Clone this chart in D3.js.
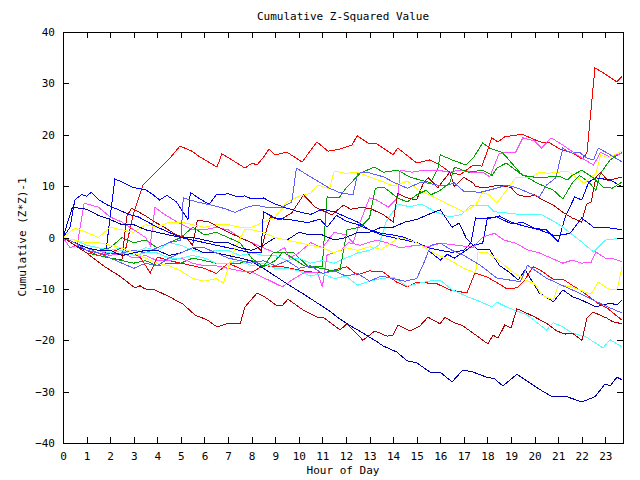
<!DOCTYPE html>
<html><head><meta charset="utf-8">
<script src="https://cdn.jsdelivr.net/npm/d3@7"></script>
<style>
body{margin:0;background:#fff}
text{font-family:"DejaVu Sans Mono","Liberation Mono",monospace;font-size:11px;fill:#000}
</style>
</head><body>
<svg id="c" width="640" height="480"></svg>
<script>
const title = "Cumulative Z-Squared Value";
const xTitle = "Hour of Day";
const yTitle = "Cumulative (Z*Z)-1";
const xTicks = d3.range(0, 24);
const yTicks = [-40, -30, -20, -10, 0, 10, 20, 30, 40];

const redTop = [[0,0],[0.5,-1],[1,-2],[1.5,-2.5],[2,-3],[2.6,-3.5],[2.97,4.4],[3.39,10.2],[3.9,12.6],[4.54,15.5],[4.96,17.8],[5.47,16.8],[5.73,15.9],[6.53,13.7],[6.74,16.3],[7.17,15.1],[7.72,13.5],[8.02,14.5],[8.23,14.1],[8.48,15.5],[8.74,17.2],[8.99,16.1],[9.5,16.6],[10.14,14.7],[10.77,18.6],[11.24,16.8],[11.75,17.2],[12.26,18.0],[12.47,19.8],[12.93,18.4],[13.32,18.2],[14.0,16.1],[14.2,17.4],[15.0,14.5],[15.56,15.1],[15.99,14.1],[16.41,12.7],[16.84,12.2],[17.39,14.1],[17.77,13.9],[18.19,19.4],[18.45,18.6],[18.74,19.6],[19.47,20.1],[20.23,18.6],[20.65,18.4],[21.08,17.2],[21.63,16.4],[22.01,15.3],[22.22,16.4],[22.56,33.0],[23.0,31.8],[23.49,30.3],[23.71,31.4]];
const redLow = [[0,0],[0.5,-1],[1,-2.5],[1.5,-3.5],[2,-3],[2.5,-2],[3,-3],[3.3,-4],[3.7,-6.9],[4,-3.8],[4.5,-4.5],[5,-5],[5.5,-5.5],[6,-6],[6.5,-7],[7,-5],[7.5,-6],[7.93,-7],[8.48,-5.5],[9.33,-5.7],[10.2,-6.5],[11.03,-7],[11.5,-6.3],[12.04,-5.7],[12.47,-7.3],[13,-6.5],[13.57,-6.7],[14.16,-8.7],[14.59,-9.6],[15.01,-8.7],[15.86,-9],[16.41,-10.2],[17.13,-10.8],[17.47,-6.9],[17.98,-7.7],[18.45,-8.9],[18.83,-10],[19.25,-9.8],[19.59,-8.3],[19.93,-5.7],[20.23,-6.3],[20.78,-8.1],[21.2,-8.1],[21.63,-9.4],[22.05,-10.6],[22.65,-12.7],[23.07,-13.7],[23.71,-16.1]];
const dkRedBot = [[0,0],[0.5,-1.5],[1,-3],[1.78,-5.7],[2.4,-7.5],[3.05,-9.8],[3.27,-9.4],[3.48,-10.0],[3.9,-10.2],[4.54,-11.6],[5.1,-13],[5.6,-15.1],[6.1,-16],[6.53,-17.4],[6.95,-16.8],[7.51,-16.8],[7.72,-13.5],[8.23,-10.8],[8.57,-11.6],[9.08,-13.3],[9.29,-13.3],[9.54,-12.0],[10.18,-14.1],[10.77,-15.5],[11.03,-15.5],[11.75,-18.0],[12.04,-16.8],[12.72,-20.0],[13.23,-18.2],[13.74,-19.2],[14.0,-19.0],[14.21,-17.0],[14.72,-18.2],[15.14,-17.2],[15.48,-15.5],[15.99,-16.8],[16.2,-15.5],[16.5,-16.4],[16.96,-17.2],[17.39,-18.6],[18.02,-20.7],[18.24,-19.0],[18.45,-19.6],[18.74,-17.0],[19.0,-17.6],[19.25,-13.9],[19.47,-14.3],[20.02,-15.5],[20.53,-16.8],[20.95,-18.2],[21.29,-18.8],[21.59,-18.6],[22.01,-20.0],[22.22,-15.7],[22.48,-14.5],[23.07,-15.7],[23.32,-16.4],[23.71,-16.8]];
const dkRedHigh = [[0,0],[0.5,-1],[1,-2.5],[1.5,-3.5],[2,-4],[2.5,-4.4],[2.7,4],[2.9,5.7],[3.2,5],[3.5,4.2],[3.9,3],[4.3,2],[4.8,0.5],[5.2,0],[5.5,-1.5],[5.7,3.4],[6.2,3],[6.8,1.5],[7.5,0],[8,-1],[8.4,-2.5],[8.6,1],[8.8,4],[9.2,3.4],[9.7,4.8],[10.2,8.3],[10.7,5.9],[11.4,4.4],[11.9,6.3],[12.2,5.5],[12.7,5.9],[13.1,5.5],[13.6,4.4],[14,3],[14.2,8.6],[14.6,7.7],[15,7.3],[15.3,10.8],[15.5,11.6],[15.9,9.7],[16.4,12.7],[16.6,9.9],[17,11.7],[17.4,10.6],[17.5,9.9],[17.9,9.7],[18.5,10.2],[19,9.7],[19.3,8.3],[19.7,7.9],[20,8.3],[20.2,7.7],[20.8,6.3],[21.2,4.9],[21.6,3.8],[22,3],[22.2,6.5],[22.4,6.9],[22.6,11.7],[22.8,12.7],[23.1,11.1],[23.5,11.5],[23.71,11.8]];
const greenA = [[0,0],[0.5,-1],[1,-2],[1.5,-2.5],[2,-2],[2.5,0],[3,-1],[3.5,-0.5],[4,-2],[4.5,-1],[5,0],[5.5,2],[6,0.5],[6.5,1],[7,0],[7.5,-1],[8,-4],[8.5,-5.7],[9,-4.5],[9.3,-3],[9.8,-3],[10.4,-5.7],[11,-5.7],[11.1,1.5],[11.2,7.9],[11.7,7.7],[12,9.6],[12.6,12.5],[13.2,13.7],[13.6,12.7],[14.2,13.1],[14.7,11.8],[15.2,11.1],[15.6,10.7],[15.9,13.5],[16,16.1],[16.5,15.1],[17.1,14.1],[17.4,15.5],[17.8,18.4],[18.1,17.4],[18.6,16.6],[18.8,15.7],[19.4,12.5],[20.1,10.6],[20.8,9.2],[21.2,7.5],[21.6,10.6],[21.9,12.1],[22.3,10.8],[22.6,9.2],[22.8,12.5],[23.2,15.1],[23.71,16.6]];
const greenB = [[0,0],[0.5,-1.5],[1,-3],[1.5,-3.5],[2,-4],[2.5,-4.5],[3,-5],[3.5,-4.5],[4,-5.5],[4.5,-5],[5,-5],[5.5,-4],[6,-4.5],[6.5,-5],[7,-5],[7.5,-5],[8,-4.4],[8.5,-5.7],[8.9,-3],[9.4,-3],[9.9,-4.5],[10.3,-5.7],[11,-6],[11.4,-6.5],[11.75,-6.3],[12.05,1.5],[12.6,2],[13,3.8],[13.25,9.6],[13.6,9.8],[14.2,7.7],[14.6,6.9],[15,8.3],[15.4,9.2],[15.6,8.3],[16,9.2],[16.4,10.6],[16.6,13.7],[17.2,12.7],[17.8,13.1],[18.2,12.1],[18.4,13.5],[18.8,14.5],[19.5,12.1],[20.2,11.6],[20.6,11.8],[21.1,11.8],[21.4,11.2],[21.6,12.1],[22,13.1],[22.5,11.6],[22.9,9.8],[23.3,9.6],[23.71,10.8]];
const blueA = [[0,0],[0.5,-1.5],[1,-2.5],[1.5,-3],[1.8,-3.5],[2.0,4],[2.2,11.4],[2.5,10.8],[3,9.7],[3.5,9.3],[3.8,8.4],[4.1,7.3],[4.4,8.2],[4.8,7],[5.3,3.5],[5.4,8.8],[5.8,7.5],[6.2,6.5],[6.5,8.3],[7,8.5],[7.4,7.9],[7.7,8.1],[8,7.5],[8.5,7.7],[9,6.5],[9.5,5.7],[10,5],[10.5,4.5],[11,5.5],[11.5,5],[12,4],[12.5,3],[13,1.5],[13.5,0.5],[14,0],[14.5,-0.5],[15,-1],[15.5,-2.5],[16,-4.4],[16.3,-3.3],[16.6,-4],[17,-2.8],[17.4,-1.5],[17.8,-1.1],[18,3.8],[18.4,4],[19,2.7],[19.5,2.9],[20,1.8],[20.5,1.5],[21,-0.8],[21.3,4],[21.7,7.9],[22,7.3],[22.3,10.8],[22.6,11.6],[23.2,11.2],[23.71,9.9]];
const blueB = [[0,0],[0.3,2],[0.5,7.3],[0.8,8.4],[1,8],[1.2,8.8],[1.5,7.4],[1.9,6.3],[2.3,5.5],[2.8,4.5],[3.2,4],[3.6,3],[4,2],[4.5,1],[5,0],[5.5,-0.5],[6,-1],[6.5,-1.5],[7,-2],[7.5,-2.5],[8,-3],[8.4,-3],[8.5,5],[9,3.8],[9.7,3.4],[10.4,2.9],[10.9,3.6],[11.2,2],[11.6,4.3],[12,3.2],[12.5,2.5],[13,1.5],[13.5,0.8],[14,0.5],[14.5,0],[15,-1],[15.5,-2],[16,-2.5],[16.5,-2.9],[17,-2.5],[17.3,-1],[17.5,3.8],[18,3.6],[18.5,4.2],[19,3],[19.5,2.3],[20.2,1.5],[20.9,0.3],[21.5,0.8],[22,3.8],[22.5,2],[23,2],[23.71,1.5]];
const navyBot = [[0,0],[0.5,-1],[1,-2],[1.5,-2.5],[2,-2.5],[2.5,-3.5],[3,-3],[3.5,-2.5],[4,-2.5],[4.5,-3.5],[5,-3],[5.5,-2],[6,-3],[6.5,-3],[7,-3.5],[7.5,-4],[7.93,-4.5],[8.5,-6],[9,-7.5],[9.63,-9.4],[10.2,-11],[10.77,-12.7],[11.3,-14.3],[11.75,-15.9],[12.2,-17.2],[12.72,-18.6],[13.32,-20.3],[13.57,-21.1],[14.16,-22.3],[14.59,-24.0],[15.01,-24.4],[15.56,-26.2],[15.99,-26.2],[16.5,-28.1],[16.96,-25.8],[17.39,-26.2],[17.98,-27.2],[18.3,-27.5],[18.66,-28.9],[19.25,-26.6],[19.93,-28.7],[20.3,-29.8],[20.74,-31.0],[21.37,-31.0],[22.01,-32.0],[22.56,-31.0],[22.99,-28.5],[23.2,-28.9],[23.49,-27.2],[23.71,-27.7]];
const navyMid = [[0,0],[0.2,3],[0.4,5.9],[1,5.5],[1.5,4.3],[2,3.5],[2.5,2.5],[3,2.5],[3.5,1.5],[4,1],[4.5,0.5],[5,0],[5.5,0],[6,-0.5],[6.5,-1],[7,-1],[7.5,-2],[8,-2.5],[8.5,-1.5],[9,0],[9.5,-0.5],[10,1],[10.5,0.5],[11,0.5],[11.5,-0.5],[12,0],[12.5,1],[13,1],[13.5,2],[14,2],[14.5,3],[15,3.5],[15.5,4.5],[16,5.4],[16.5,2],[16.8,2.8],[17.1,-0.1],[17.6,-2.4],[18.1,-2.4],[18.5,-5.4],[19,-7],[19.3,-8.3],[19.6,-6.3],[20.2,-10.8],[20.8,-12.5],[21.2,-10.2],[21.6,-11.5],[22,-12.2],[22.6,-13.5],[23.2,-12.8],[23.5,-13.1],[23.71,-12.2]];
const medBlueLow = [[0,0],[0.5,-1],[1,-2.5],[1.5,-3],[2,-4],[2.5,-5],[3,-6],[3.5,-5],[4,-5.5],[4.5,-4],[5,-3],[5.5,-2],[6,-2],[6.5,-3],[7,-4],[7.5,-4.5],[8,-5],[8.5,-4.5],[9,-5.5],[9.5,-4.5],[10,-6],[10.5,-5.5],[11,-7],[11.5,-6.5],[12,-7.5],[12.5,-7],[13,-8.5],[13.5,-7.5],[14,-8],[14.5,-8.5],[15,-8],[15.3,-5],[15.6,-1.5],[16,-1.1],[16.5,-2.5],[17,-3.5],[17.7,-5.4],[18.4,-7.9],[19.4,-8.6],[19.7,-5.4],[20.5,-7.9],[21.3,-9.6],[21.9,-10.8],[22.5,-12.2],[23.1,-13.5],[23.71,-14.7]];
const medBlueHigh = [[0,0],[0.5,-1],[1,-2],[1.5,-3],[2,-3.5],[2.5,-3],[3,-2.5],[3.5,-3],[4,-2],[4.5,-1],[5,-0.5],[5.1,7.7],[5.7,6.9],[6.3,6.3],[6.8,5.7],[7.3,4.9],[7.8,5.9],[8.2,6.3],[8.6,5.9],[9.3,5.9],[9.7,6.9],[9.9,13.5],[10.5,11.8],[11.3,9.6],[11.7,8.8],[12.3,8.3],[12.5,12.5],[12.9,12.7],[13.6,11.8],[14,10.8],[14.6,9.6],[15.2,10.8],[15.9,10.2],[16.3,10.2],[16.6,10.6],[17,9],[17.7,8.8],[18.4,9.6],[18.8,10.2],[19.3,9.6],[19.8,8.6],[20.2,7.9],[20.5,10.2],[20.9,11.6],[21.2,17.4],[21.4,16.8],[21.6,16.4],[21.9,16.6],[22.2,15.5],[22.5,15.1],[22.7,17.4],[23.1,16.4],[23.71,14.7]];
const magentaHigh = [[0,0],[0.3,-2],[0.6,-1.5],[0.9,6.7],[1.5,5.9],[2,4],[2.5,3],[3,1.5],[3.5,0],[3.7,-1.5],[3.9,5.9],[4.3,4.5],[5,2.6],[5.5,1.5],[6,1.5],[6.5,2],[7,1.5],[7.5,0],[8,-1],[8.5,-2],[9,-3],[9.4,-2],[9.6,-4],[10,-3],[10.5,-1],[11,-2],[11.5,1],[12,0.5],[12.3,-1],[12.6,3],[13,7.7],[13.3,7.3],[13.8,5.9],[14.2,7.7],[14.3,13.1],[14.8,12.7],[15.3,13.1],[15.9,13.1],[16.4,12.7],[16.8,13.1],[17.3,12.7],[17.8,12.7],[18.1,11.8],[18.3,14.1],[18.5,16.4],[19.2,16.6],[19.5,19.4],[20,18.8],[20.3,17.4],[20.7,19.4],[21.2,18],[21.7,16.4],[22,15.5],[22.5,14.1],[22.8,16.6],[23.2,15.7],[23.71,16.4]];
const magentaLow = [[0,0],[0.5,-1],[1,-2],[1.5,-2.5],[2,-3.5],[2.5,-3],[3,-4],[3.5,-3.5],[4,-4.5],[4.5,-4.5],[5,-4],[5.5,-5],[6,-5.5],[6.5,-5.5],[7,-6],[7.5,-6.5],[8,-6.7],[8.5,-7.8],[9.3,-9.6],[9.7,-8.3],[10.2,-6.9],[10.8,-6.9],[11,-9.6],[11.2,-3.4],[11.8,-2.5],[12.1,-1],[12.6,-1.5],[13.3,-0.5],[13.8,-1.1],[14.3,-2],[15,-1.5],[15.5,-1.8],[16,-1.1],[16.7,-1.5],[17.4,-1.9],[17.8,0.1],[18.3,0.8],[18.7,-0.5],[19.2,-1.1],[19.7,-2.4],[20.2,-3],[20.7,-4],[21.2,-5],[21.6,-4.4],[22,-5],[22.4,-4.8],[22.6,-2.8],[23,-4],[23.4,-4.2],[23.71,-4.7]];
const yellowLow = [[0,0],[0.5,-0.5],[1,-1],[1.5,-1],[2,-1.5],[2.5,-2],[3,-3],[3.5,-4],[4,-5],[4.5,-5.5],[5,-6.5],[5.5,-8],[6,-8.5],[6.5,-8],[6.8,-8.9],[7,-6],[7.3,-2],[7.7,1.5],[8,1.5],[8.5,1],[9,0],[9.5,-0.5],[10,-1],[10.5,-1.5],[11,-2],[11.5,-3],[12,-2],[12.5,-2.5],[13,-1.8],[13.5,-2.3],[14.3,0.1],[15,-1],[15.5,-2.5],[15.9,-3.4],[16.4,-4.4],[17,-6],[17.5,-6.9],[17.6,-2.8],[18,-3],[18.5,-4.5],[19,-6.5],[19.5,-8],[20,-9],[20.3,-11.2],[20.8,-12.2],[21,-9.3],[21.5,-9.5],[21.9,-10.2],[22.4,-11],[22.7,-8.7],[23.2,-10.2],[23.5,-10.2],[23.71,-5.7]];
const yellowHigh = [[0,0],[0.5,1.8],[1,1],[1.5,0],[2,2],[2.5,1.5],[3,1],[3.5,2.5],[4,2],[4.5,3],[5,3],[5.5,2.5],[6,2],[6.5,2.5],[7,2.5],[7.5,2],[8,2],[8.5,3],[9,4],[9.5,6.9],[10,8],[10.5,8.6],[10.8,10.2],[11.3,9.5],[11.5,12.9],[12,12.5],[12.5,12.7],[13,11.8],[13.6,10.8],[14,10],[14.6,11],[15,9.5],[15.5,8.3],[16,7.3],[16.4,6.3],[17,5],[17.5,6.3],[17.8,8.8],[18.1,8.2],[18.4,6.7],[19.2,11.6],[19.9,11.8],[20.2,12.7],[20.6,12.5],[21.4,12.9],[22.1,10.6],[22.6,12.5],[22.8,16.1],[23.1,15.5],[23.71,16.8]];
const cyanLow = [[0,0],[0.5,-1],[1,-2],[1.5,-2.5],[2,-3],[2.5,-2.5],[3,-3.5],[3.5,-3],[4,-3],[4.5,-4],[5,-4],[5.5,-3.5],[6,-4],[6.5,-5],[7,-5],[7.5,-4.5],[8,-5.5],[8.5,-5],[9,-6],[9.5,-6],[10,-6.5],[10.5,-7.5],[11,-7],[11.5,-8],[12,-7.5],[12.5,-9.3],[13,-8.5],[13.5,-8],[14,-7.7],[14.6,-9.5],[15,-9],[15.5,-8.5],[16,-8.3],[16.5,-10.2],[17.2,-11.6],[17.7,-12.5],[18.2,-13.5],[18.4,-12.6],[18.8,-13.5],[19.7,-15.1],[20.5,-18],[20.8,-16.6],[21.2,-17.4],[21.6,-18.6],[22.2,-19.4],[22.9,-21.5],[23.2,-19.9],[23.71,-21.3]];
const cyanMid = [[0,0],[0.5,-0.5],[1,-1.5],[1.5,-2],[2,-2.5],[2.5,-2],[3,-3],[3.5,-2],[4,-2.5],[4.5,-1],[5,-1.5],[5.5,-2.5],[6,-3],[6.5,-2.5],[7,-2.5],[7.5,-3.5],[8,-3],[8.5,-3.5],[9,-3.5],[9.5,-4.5],[10,-4],[10.5,-5],[11,-4.5],[11.5,-5],[12,-4],[12.5,-3],[13,-2.5],[13.4,-1.5],[13.7,3],[14.2,6.5],[14.7,6],[15.2,6.5],[15.8,5],[16.4,4],[16.9,4.5],[17.3,6.3],[18,6.3],[18.3,5],[19,4.7],[19.5,4.4],[20.3,4.4],[20.8,3.2],[21.2,2],[21.9,-0.5],[22.5,-2.8],[23,-0.5],[23.71,-0.1]];

const series = [
  {name:"redTop", data:redTop, color:"#ff0000"},
  {name:"greenA", data:greenA, color:"#00a000"},
  {name:"blueA", data:blueA, color:"#0000ff"},
  {name:"magentaHigh", data:magentaHigh, color:"#ff50ff"},
  {name:"cyanMid", data:cyanMid, color:"#50ffff"},
  {name:"dkRedHigh", data:dkRedHigh, color:"#b00000"},
  {name:"yellowHigh", data:yellowHigh, color:"#ffff00"},
  {name:"navyMid", data:navyMid, color:"#0000a8"},
  {name:"medBlueHigh", data:medBlueHigh, color:"#6060ff"},
  {name:"redLow", data:redLow, color:"#ff0000"},
  {name:"greenB", data:greenB, color:"#00a000"},
  {name:"blueB", data:blueB, color:"#0000ff"},
  {name:"magentaLow", data:magentaLow, color:"#ff50ff"},
  {name:"cyanLow", data:cyanLow, color:"#50ffff"},
  {name:"dkRedBot", data:dkRedBot, color:"#b00000"},
  {name:"yellowLow", data:yellowLow, color:"#ffff00"},
  {name:"navyBot", data:navyBot, color:"#0000a8"},
  {name:"medBlueLow", data:medBlueLow, color:"#6060ff"}
];

const svg = d3.select("#c");
const L = 63, R = 623, T = 32, B = 443;
const x = d3.scaleLinear().domain([0, 23.75]).range([L, R]);
const y = d3.scaleLinear().domain([-40, 40]).range([B, T]);

const line = d3.line().x(d => x(d[0])).y(d => y(d[1]));
svg.append("g").selectAll("path").data(series).join("path")
  .attr("d", d => line(d.data))
  .attr("fill", "none")
  .attr("stroke", d => d.color)
  .attr("stroke-width", 1)
  .attr("shape-rendering", "crispEdges");

function styleAxis(g){ g.select(".domain").remove(); g.selectAll("line").attr("stroke","#000").attr("shape-rendering","crispEdges"); g.selectAll("text").attr("font-family",null).attr("font-size",null); }

svg.append("g").attr("transform",`translate(0,${B})`)
  .call(d3.axisBottom(x).tickValues(xTicks).tickFormat(d3.format("d")).tickSizeInner(-6).tickSizeOuter(0).tickPadding(9))
  .call(styleAxis);
svg.append("g").attr("transform",`translate(0,${T})`)
  .call(d3.axisTop(x).tickValues(xTicks).tickFormat("").tickSizeInner(-6).tickSizeOuter(0))
  .call(styleAxis);
svg.append("g").attr("transform",`translate(${L},0)`)
  .call(d3.axisLeft(y).tickValues(yTicks).tickFormat(d3.format("d")).tickSizeInner(-6).tickSizeOuter(0).tickPadding(8))
  .call(styleAxis);
svg.append("g").attr("transform",`translate(${R},0)`)
  .call(d3.axisRight(y).tickValues(yTicks).tickFormat("").tickSizeInner(-6).tickSizeOuter(0))
  .call(styleAxis);

svg.append("rect").attr("x",L+0.5).attr("y",T+0.5).attr("width",R-L).attr("height",B-T)
  .attr("fill","none").attr("stroke","#000").attr("stroke-width",1);

svg.append("text").attr("x",343).attr("y",20).attr("text-anchor","middle").text(title);
svg.append("text").attr("x",343).attr("y",474).attr("text-anchor","middle").text(xTitle);
svg.append("text").attr("transform","translate(26,237) rotate(-90)").attr("text-anchor","middle").text(yTitle);
</script>
</body></html>
